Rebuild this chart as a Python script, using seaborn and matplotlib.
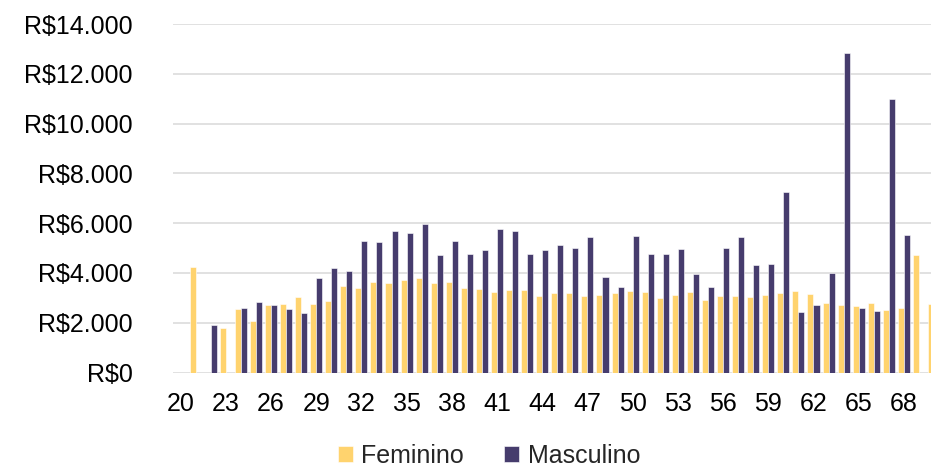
import numpy as np
import pandas as pd
import matplotlib
matplotlib.use("Agg")
import matplotlib.pyplot as plt
import seaborn as sns

# ==========================
# DATA
# ==========================
idades = list(range(20, 71))

feminino = [
    np.nan, 4240, np.nan, 1790, 2560, 2080, 2700, 2770, 3050, 2750,
    2870, 3490, 3410, 3640, 3600, 3710, 3810, 3600, 3650, 3400,
    3370, 3240, 3320, 3320, 3090, 3210, 3200, 3070, 3110, 3190,
    3270, 3230, 2980, 3100, 3240, 2930, 3090, 3080, 3040, 3100,
    3200, 3260, 3160, 2800, 2730, 2660, 2800, 2520, 2600, 4740,
    2760,
]

masculino = [
    np.nan, np.nan, 1910, np.nan, 2610, 2850, 2730, 2570, 2390, 3790,
    4200, 4080, 5270, 5240, 5690, 5610, 5970, 4730, 5270, 4770,
    4910, 5770, 5690, 4770, 4910, 5120, 4990, 5440, 3830, 3450,
    5490, 4780, 4750, 4960, 3960, 3430, 5020, 5460, 4310, 4360,
    7240, 2420, 2700, 4000, 12820, 2610, 2480, 10980, 5540, np.nan,
    np.nan,
]

SEXOS = ["Feminino", "Masculino"]
CORES = ["#FFD36E", "#463C6D"]
y_ticks = list(range(0, 14001, 2000))
y_labels = ["R$0", "R$2.000", "R$4.000", "R$6.000", "R$8.000",
            "R$10.000", "R$12.000", "R$14.000"]

# ==========================
# DATAFRAME
# ==========================
df = pd.DataFrame({
    "idade": [str(i) for i in idades] * 2,
    "salario": feminino + masculino,
    "sexo": ["Feminino"] * len(idades) + ["Masculino"] * len(idades),
}).dropna()

# ==========================
# PLOT
# ==========================
sns.set_style("white")
plt.rcParams["font.family"] = ["Liberation Sans", "DejaVu Sans"]

W, H = 931, 470
fig = plt.figure(figsize=(W / 100, H / 100), dpi=100)
step = 15.07
left_px = 173
ax = fig.add_axes([left_px / W, 97.5 / H, len(idades) * step / W, 348.5 / H])

sns.barplot(
    data=df, x="idade", y="salario", hue="sexo",
    order=[str(i) for i in idades], hue_order=SEXOS,
    palette=CORES, saturation=1, width=0.8, gap=0, errorbar=None,
    edgecolor="white", linewidth=0.4, ax=ax
)

ax.set_xlim(-0.5, len(idades) - 0.5)
ax.set_ylim(0, 14000)
ax.set_yticks(y_ticks)
ax.set_yticklabels(y_labels)
tick_pos = list(range(0, len(idades), 3))
ax.set_xticks(tick_pos)
ax.set_xticklabels([str(idades[i]) for i in tick_pos])
ax.tick_params(axis="y", length=0, pad=29, labelsize=18, colors="#000000")
ax.tick_params(axis="x", length=0, pad=14, labelsize=18, colors="#000000")
ax.set_xlabel("")
ax.set_ylabel("")

ax.yaxis.grid(True, color="#d9d9d9", linewidth=1.1)
ax.set_axisbelow(True)
for s in ax.spines.values():
    s.set_visible(False)

handles, labels = ax.get_legend_handles_labels()
ax.get_legend().remove()
fig.legend(
    handles, labels, loc="center", bbox_to_anchor=(489 / W, 14 / H),
    ncol=2, frameon=False, fontsize=18,
    handlelength=0.6, handleheight=0.6, handletextpad=0.35,
    columnspacing=1.6, borderaxespad=0
)

fig.savefig("out.png", dpi=100)
